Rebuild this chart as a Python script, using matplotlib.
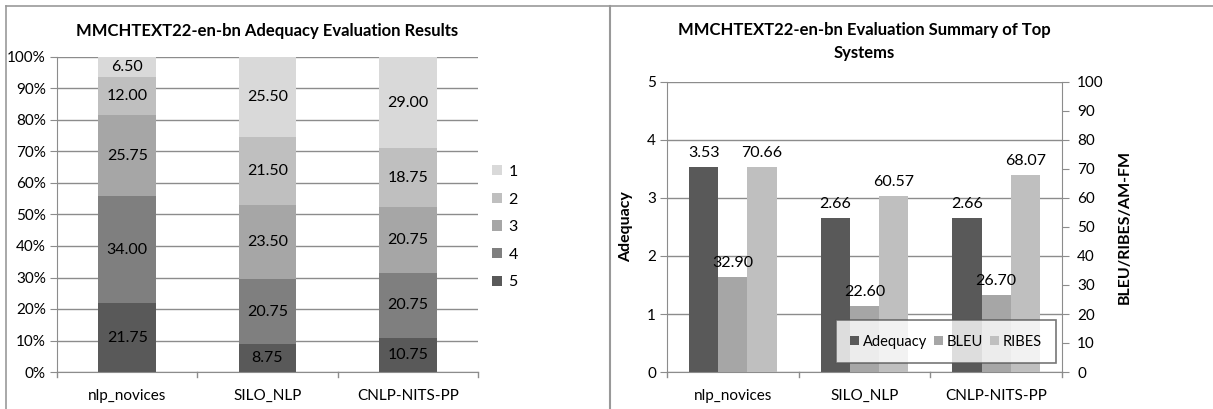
import numpy as np
import matplotlib.pyplot as plt
from matplotlib.lines import Line2D

plt.rcParams['font.family'] = ['Lato', 'DejaVu Sans']

# ---------- data -------------------------------------------------------------
systems = ["nlp_novices", "SILO_NLP", "CNLP-NITS-PP"]

# adequacy score distribution (%), score 5 at bottom up to score 1 on top
score_labels = ["5", "4", "3", "2", "1"]
score5 = [21.75, 8.75, 10.75]
score4 = [34.00, 20.75, 20.75]
score3 = [25.75, 23.50, 20.75]
score2 = [12.00, 21.50, 18.75]
score1 = [6.50, 25.50, 29.00]

# summary of top systems
adequacy = [3.53, 2.66, 2.66]
bleu = [32.90, 22.60, 26.70]
ribes = [70.66, 60.57, 68.07]

score_colors = ["#595959", "#7f7f7f", "#a6a6a6", "#bfbfbf", "#d9d9d9"]
grid_c = "#8c8c8c"
TICK_FS = 11
LAB_FS = 11.5

fig = plt.figure(figsize=(12.13, 4.09), dpi=100)
W, H = 1213, 409

def px(x0, y0, x1, y1):
    return [x0 / W, 1 - y1 / H, (x1 - x0) / W, (y1 - y0) / H]

def style_axes(ax):
    for s in ["top", "right"]:
        ax.spines[s].set_visible(False)
    ax.spines["left"].set_color(grid_c)
    ax.spines["bottom"].set_color(grid_c)
    ax.tick_params(axis="both", colors=grid_c, labelcolor="black", labelsize=TICK_FS)
    ax.tick_params(axis="x", length=0, pad=12)
    ax.tick_params(axis="y", length=5, pad=3)
    ax.yaxis.grid(True, color=grid_c, lw=1)
    ax.set_axisbelow(True)

# ---------- left: stacked percentage bars ------------------------------------
ax1 = fig.add_axes(px(57, 57, 478, 372))
x = np.arange(len(systems))
stacks = [score5, score4, score3, score2, score1]
bottom = np.zeros(len(systems))
bars_left = []
for vals, lab, col in zip(stacks, score_labels, score_colors):
    b = ax1.bar(x, vals, 0.41, bottom=bottom, color=col, label=lab)
    bars_left.append(b)
    for xi, v, b0 in zip(x, vals, bottom):
        ax1.text(xi, b0 + v / 2, f"{v:.2f}", ha="center", va="center", fontsize=LAB_FS)
    bottom += np.array(vals)

ax1.set_xlim(-0.5, 2.5)
ax1.set_ylim(0, 100)
ax1.set_yticks(range(0, 101, 10))
ax1.set_yticklabels([f"{v}%" for v in range(0, 101, 10)])
ax1.set_xticks(x)
ax1.set_xticklabels(systems)
style_axes(ax1)
# category separators on the x axis
for sep in [-0.5, 0.5, 1.5, 2.5]:
    ax1.plot([sep, sep], [0, -1.6], color=grid_c, lw=1, clip_on=False)
ax1.set_title("MMCHTEXT22-en-bn Adequacy Evaluation Results", fontsize=12,
              fontweight="bold", pad=15)

handles = [bars_left[i] for i in range(4, -1, -1)]
ax1.legend(handles, [score_labels[i] for i in range(4, -1, -1)],
           loc="center left", bbox_to_anchor=(1.0, 0.46), frameon=False,
           fontsize=LAB_FS, handlelength=0.6, handleheight=0.6,
           handletextpad=0.4, labelspacing=0.85)

# ---------- right: summary with twin axes ------------------------------------
ax2 = fig.add_axes(px(667, 82, 1062, 372))
ax3 = ax2.twinx()
w = 0.222
b_adq = ax2.bar(x - w, adequacy, w, color="#595959", label="Adequacy")
b_bleu = ax3.bar(x, bleu, w, color="#a6a6a6", label="BLEU")
b_ribes = ax3.bar(x + w, ribes, w, color="#bfbfbf", label="RIBES")
for xi, v in zip(x, adequacy):
    ax2.text(xi - w, v + 0.12, f"{v:.2f}", ha="center", va="bottom", fontsize=LAB_FS)
for xi, v in zip(x, bleu):
    ax3.text(xi, v + 2.4, f"{v:.2f}", ha="center", va="bottom", fontsize=LAB_FS)
for xi, v in zip(x, ribes):
    ax3.text(xi + w, v + 2.4, f"{v:.2f}", ha="center", va="bottom", fontsize=LAB_FS)

ax2.set_xlim(-0.5, 2.5)
ax2.set_ylim(0, 5)
ax3.set_ylim(0, 100)
ax2.set_yticks(range(0, 6))
ax3.set_yticks(range(0, 101, 10))
ax2.set_xticks(x)
ax2.set_xticklabels(systems)
style_axes(ax2)
for s in ["top", "left", "bottom"]:
    ax3.spines[s].set_visible(False)
ax3.spines["right"].set_color(grid_c)
ax3.tick_params(axis="y", colors=grid_c, labelcolor="black", labelsize=TICK_FS,
                length=5, pad=6)
for sep in [-0.5, 0.5, 1.5, 2.5]:
    ax2.plot([sep, sep], [0, -0.08], color=grid_c, lw=1, clip_on=False)
ax2.set_ylabel("Adequacy", fontsize=11.5, fontweight="bold", labelpad=10)
ax3.set_ylabel("BLEU/RIBES/AM-FM", fontsize=11.5, fontweight="bold", labelpad=10)
ax2.set_title("MMCHTEXT22-en-bn Evaluation Summary of Top\nSystems", fontsize=12,
              fontweight="bold", pad=17, linespacing=1.55)

leg = ax3.legend([b_adq, b_bleu, b_ribes], ["Adequacy", "BLEU", "RIBES"],
                 loc="lower right", bbox_to_anchor=(0.993, 0.02), ncol=3,
                 fontsize=10.5, handlelength=0.6, handleheight=0.6,
                 handletextpad=0.25, columnspacing=0.5, fancybox=False,
                 borderpad=1.0, borderaxespad=0.2)
leg.get_frame().set_edgecolor("#555555")
leg.get_frame().set_linewidth(1.2)

# panel frames
fig.add_artist(Line2D([6 / W, 6 / W], [0, 1 - 6 / H], color="#999999", lw=1.2))
fig.add_artist(Line2D([6 / W, 1], [1 - 6 / H, 1 - 6 / H], color="#999999", lw=1.2))
fig.add_artist(Line2D([610 / W, 610 / W], [0, 1 - 6 / H], color="#999999", lw=1.5))

fig.savefig("out.png", dpi=100)
